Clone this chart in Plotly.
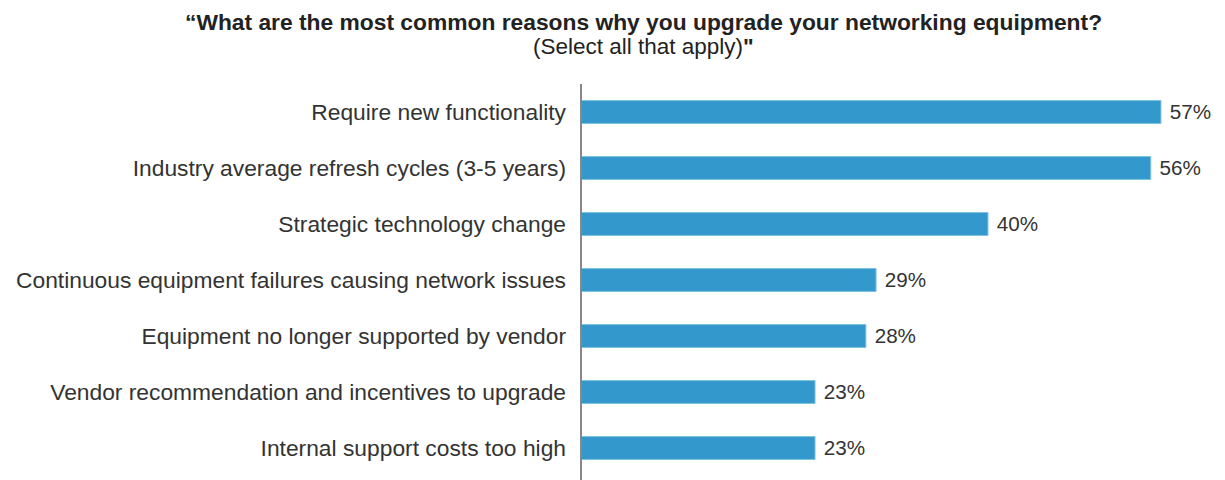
import plotly.graph_objects as go

categories = [
    "Require new functionality",
    "Industry average refresh cycles (3-5 years)",
    "Strategic technology change",
    "Continuous equipment failures causing network issues",
    "Equipment no longer supported by vendor",
    "Vendor recommendation and incentives to upgrade",
    "Internal support costs too high",
]
values = [57, 56, 40, 29, 28, 23, 23]
value_labels = ["57%", "56%", "40%", "29%", "28%", "23%", "23%"]
title_line1 = "\u201cWhat are the most common reasons why you upgrade your networking equipment?"
title_line2 = "(Select all that apply)"

# page body has an 8px margin, so the figure is drawn 8px in from the window edge
OFF = 8
W, H = 1225 - OFF, 480 - OFF
L, T, R, B = 581 - OFF, 84 - OFF, 3, 4
pw, ph = W - L - R, H - T - B

def px(x):
    return (x - OFF - L) / pw

def py(y):
    return 1 + (T - (y - OFF)) / ph

fig = go.Figure(go.Bar(
    y=categories,
    x=values,
    orientation="h",
    marker=dict(color="#3399cc", line=dict(color="#7fc0e3", width=1)),
    width=0.41,
    text=[" " + t for t in value_labels],
    textposition="outside",
    textfont=dict(size=22.5, color="#333333", family="Liberation Sans"),
    cliponaxis=False,
    hoverinfo="skip",
))

fig.update_layout(
    width=W, height=H,
    margin=dict(l=L, r=R, t=T, b=B, autoexpand=False),
    paper_bgcolor="white", plot_bgcolor="white",
    font=dict(family="Liberation Sans", size=23, color="#333333"),
    showlegend=False,
    xaxis=dict(range=[0, 63], visible=False, fixedrange=True),
    yaxis=dict(
        autorange="reversed",
        automargin=False,
        showline=False,
        ticks="", showgrid=False, zeroline=False,
        ticklabelstandoff=14,
        tickfont=dict(size=22.8, color="#333333"),
    ),
    shapes=[
        dict(type="line", xref="paper", yref="paper",
             x0=0, x1=0, y0=py(480), y1=1,
             line=dict(color="#888888", width=2)),
    ],
    annotations=[
        dict(text="<b>" + title_line1 + "</b>", xref="paper", yref="paper",
             x=px(643.5), y=py(21.5),
             xanchor="center", yanchor="middle", showarrow=False,
             font=dict(size=22.8, color="#222222")),
        dict(text=title_line2 + "<b>\"</b>", xref="paper", yref="paper",
             x=px(643.5), y=py(46),
             xanchor="center", yanchor="middle", showarrow=False,
             font=dict(size=22.5, color="#222222")),
    ],
)

fig.write_html("out.html")
